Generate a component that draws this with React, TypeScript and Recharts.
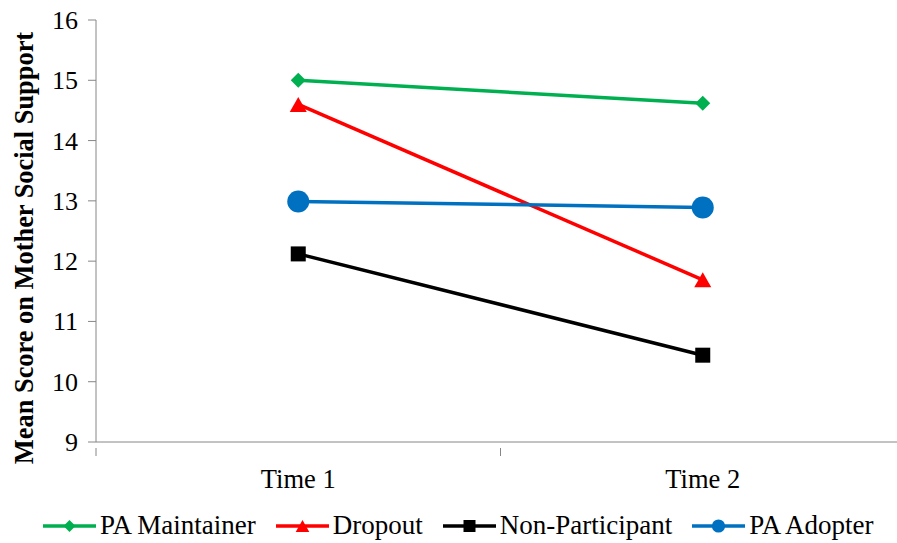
import React from "react";
import { LineChart, Line, XAxis, YAxis } from "recharts";

const categories = ["Time 1", "Time 2"];
const maintainer = [15.0, 14.62];
const dropout = [14.6, 11.69];
const nonParticipant = [12.12, 10.44];
const adopter = [12.99, 12.89];
const yTicks = [9, 10, 11, 12, 13, 14, 15, 16];

const data = categories.map((c, i) => ({
  x: i + 0.5,
  name: c,
  maintainer: maintainer[i],
  dropout: dropout[i],
  nonParticipant: nonParticipant[i],
  adopter: adopter[i],
}));

const FONT = "'Liberation Serif', 'Times New Roman', serif";
const AXIS = "#868686";

const series = [
  { key: "maintainer", name: "PA Maintainer", color: "#00B050", shape: "diamond" },
  { key: "dropout", name: "Dropout", color: "#FF0000", shape: "triangle" },
  { key: "nonParticipant", name: "Non-Participant", color: "#000000", shape: "square" },
  { key: "adopter", name: "PA Adopter", color: "#0070C0", shape: "circle" },
];

function Marker({ cx, cy, shape, color, scale = 1 }: any) {
  if (cx == null || cy == null) return null;
  if (shape === "diamond") {
    const r = 7.5 * scale;
    return <polygon points={`${cx},${cy - r} ${cx + r},${cy} ${cx},${cy + r} ${cx - r},${cy}`} fill={color} />;
  }
  if (shape === "triangle") {
    const h = 15 * scale;
    const w = 17 * scale;
    return <polygon points={`${cx},${cy - h / 2} ${cx + w / 2},${cy + h / 2} ${cx - w / 2},${cy + h / 2}`} fill={color} />;
  }
  if (shape === "square") {
    const s = 15 * scale;
    return <rect x={cx - s / 2} y={cy - s / 2} width={s} height={s} fill={color} />;
  }
  return <circle cx={cx} cy={cy} r={11 * scale} fill={color} />;
}

function XTick({ x, y, payload }: any) {
  const v = payload.value;
  if (Number.isInteger(v)) {
    return <line x1={x} x2={x} y1={y - 2} y2={y + 6} stroke={AXIS} />;
  }
  const label = categories[Math.floor(v)];
  return (
    <text x={x} y={y + 38} textAnchor="middle" fontSize={26.5} fontFamily={FONT} fill="#000">
      {label}
    </text>
  );
}

function YTick({ y, payload }: any) {
  return (
    <text x={78} y={y + 9} textAnchor="end" fontSize={26} fontFamily={FONT} fill="#000">
      {payload.value}
    </text>
  );
}

function YLabel() {
  return (
    <text
      x={0}
      y={0}
      transform="translate(33, 248) rotate(-90)"
      textAnchor="middle"
      fontSize={26.4}
      fontWeight="bold"
      fontFamily={FONT}
      fill="#000"
    >
      Mean Score on Mother Social Support
    </text>
  );
}

function Legend() {
  return (
    <div style={{ position: "absolute", left: 43, top: 510, display: "flex", alignItems: "center", fontFamily: FONT, fontSize: 27, color: "#000", whiteSpace: "nowrap" }}>
      {series.map((s, i) => (
        <div key={s.key} style={{ display: "flex", alignItems: "center", marginLeft: i === 0 ? 0 : 20 }}>
          <svg width={53} height={30}>
            <line x1={0} x2={53} y1={15} y2={15} stroke={s.color} strokeWidth={3.5} />
            <Marker cx={26.5} cy={15} shape={s.shape} color={s.color} scale={s.shape === "circle" ? 0.6 : 0.8} />
          </svg>
          <span style={{ marginLeft: 4 }}>{s.name}</span>
        </div>
      ))}
    </div>
  );
}

export default function App() {
  return (
    <div style={{ position: "absolute", left: 0, top: 0, width: 897, height: 543, overflow: "hidden", background: "#fff" }}>
      <LineChart width={920} height={543} data={data} margin={{ top: 20, right: 15, left: 0, bottom: 71 }}>
        <XAxis
          dataKey="x"
          type="number"
          domain={[0, 2]}
          ticks={[0, 0.5, 1, 1.5, 2]}
          stroke={AXIS}
          tickLine={false}
          tick={<XTick />}
          interval={0}
          height={30}
        />
        <YAxis
          type="number"
          domain={[9, 16]}
          ticks={yTicks}
          stroke={AXIS}
          width={96}
          tickSize={8}
          tick={<YTick />}
          label={<YLabel />}
        />
        {series.map((s) => (
          <Line
            key={s.key}
            dataKey={s.key}
            name={s.name}
            stroke={s.color}
            strokeWidth={3.5}
            isAnimationActive={false}
            dot={(p: any) => <Marker key={`${s.key}-${p.index}`} cx={p.cx} cy={p.cy} shape={s.shape} color={s.color} />}
            activeDot={false}
          />
        ))}
      </LineChart>
      <Legend />
    </div>
  );
}
